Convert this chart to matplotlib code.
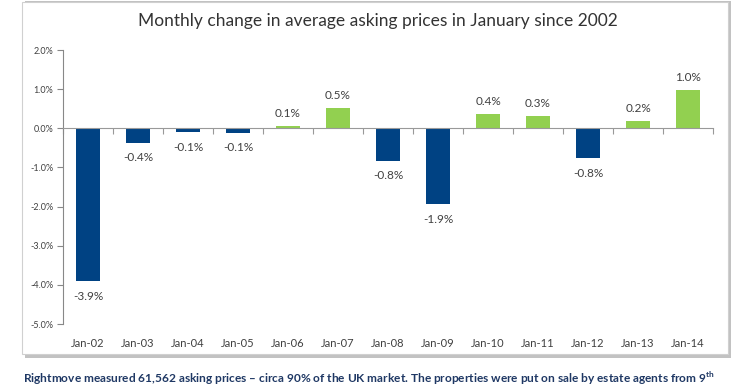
import matplotlib.pyplot as plt
from matplotlib.patches import Rectangle
from matplotlib.transforms import blended_transform_factory
import numpy as np

plt.rcParams['font.family'] = ['Lato', 'DejaVu Sans']
plt.rcParams['mathtext.fontset'] = 'custom'
plt.rcParams['mathtext.rm'] = 'Lato'
plt.rcParams['mathtext.bf'] = 'Lato:bold'

# data
months = ['Jan-02', 'Jan-03', 'Jan-04', 'Jan-05', 'Jan-06', 'Jan-07', 'Jan-08',
          'Jan-09', 'Jan-10', 'Jan-11', 'Jan-12', 'Jan-13', 'Jan-14']
change = [-3.9, -0.37, -0.09, -0.11, 0.07, 0.52, -0.83,
          -1.94, 0.36, 0.31, -0.76, 0.19, 0.99]
labels = ['-3.9%', '-0.4%', '-0.1%', '-0.1%', '0.1%', '0.5%', '-0.8%',
          '-1.9%', '0.4%', '0.3%', '-0.8%', '0.2%', '1.0%']
yticks = [2, 1, 0, -1, -2, -3, -4, -5]

title = 'Monthly change in average asking prices in January since 2002'
footnote = ('Rightmove measured 61,562 asking prices \u2013 circa 90% of the UK market. '
            'The properties were put on sale by estate agents from 9$^{\\mathbf{th}}$')

BLUE = '#004283'
GREEN = '#92D050'
GREY = '#404040'

fig = plt.figure(figsize=(7.4, 3.89), dpi=100)
W, H = 740, 389

# chart frame with drop shadow (behind the axes)
fig.patches.append(Rectangle((25 / W, 1 - 358 / H), 706 / W, 357 / H,
                             transform=fig.transFigure, facecolor='#9a9a9a',
                             edgecolor='none', alpha=0.6, zorder=-2))
fig.patches.append(Rectangle((22 / W, 1 - 354 / H), 706 / W, 352 / H,
                             transform=fig.transFigure, facecolor='white',
                             edgecolor='#d0d0d0', linewidth=0.8, zorder=-1))

ax = fig.add_axes([63 / W, 1 - 324 / H, 650 / W, 274 / H])
ax.set_facecolor('none')

x = np.arange(len(months))
colors = [GREEN if v > 0 else BLUE for v in change]
ax.bar(x, change, width=0.48, color=colors, zorder=2)

for xi, v, lab in zip(x, change, labels):
    if v >= 0:
        ax.annotate(lab, (xi, v), xytext=(0, 5), textcoords='offset points',
                    ha='center', va='bottom', fontsize=8.5, color=GREY)
    else:
        ax.annotate(lab, (xi, v), xytext=(0, -7), textcoords='offset points',
                    ha='center', va='top', fontsize=8.5, color=GREY)

ax.set_xlim(-0.5, len(months) - 0.5)
ax.set_ylim(-5, 2)
ax.set_yticks(yticks)
ax.set_yticklabels([f'{t:.1f}%' for t in yticks])
ax.tick_params(axis='y', length=4, width=0.8, color='#888888', labelsize=6.5,
               labelcolor=GREY, pad=3)

for s in ['top', 'right']:
    ax.spines[s].set_visible(False)
ax.spines['left'].set_color('#888888')
ax.spines['left'].set_linewidth(0.8)
ax.spines['bottom'].set_position(('data', 0))
ax.spines['bottom'].set_color('#999999')
ax.spines['bottom'].set_linewidth(0.8)

# boundary ticks on the zero line, category labels at the bottom
ax.set_xticks(x)
ax.set_xticklabels([])
ax.tick_params(axis='x', which='major', length=0)
ax.set_xticks(np.arange(len(months) + 1) - 0.5, minor=True)
ax.tick_params(axis='x', which='minor', length=4, width=0.8, color='#999999',
               direction='out')
tr = blended_transform_factory(ax.transData, ax.transAxes)
for xi, m in zip(x, months):
    ax.text(xi, -0.07, m, transform=tr, ha='center', va='center',
            fontsize=8, color=GREY)

fig.text(378 / W, 1 - 21 / H, title, ha='center', va='center',
         fontsize=12.5, color='#333333')

fig.text(23 / W, 1 - 378 / H, footnote, ha='left', va='center',
         fontsize=8.6, fontweight='bold', color='#1F3864')

fig.savefig('out.png', dpi=100)
